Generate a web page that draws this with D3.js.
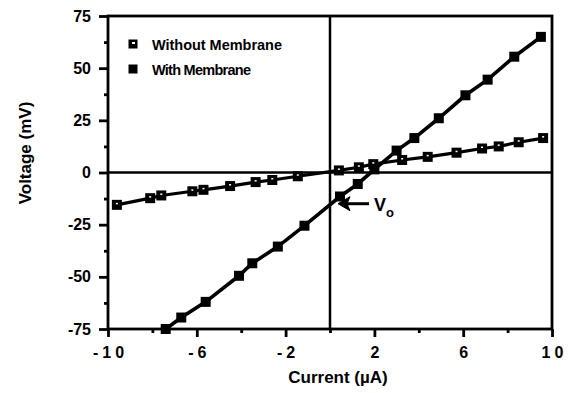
<!DOCTYPE html>
<html>
<head>
<meta charset="utf-8">
<script src="https://cdn.jsdelivr.net/npm/d3@7"></script>
<style>
  body { margin: 0; background: #fff; }
  text { font-family: "Liberation Sans", Arial, sans-serif; font-weight: bold; fill: #000; }
</style>
</head>
<body>
<div id="chart"></div>
<script>
// current (uA) / voltage (mV)
const withoutCurrent = [-9.6, -8.1, -7.6, -6.2, -5.7, -4.5, -3.35, -2.6, -1.45, 0.4, 1.3, 1.95, 3.25, 4.4, 5.7, 6.85, 7.6, 8.5, 9.6];
const withoutVoltage = [-15.5, -12.3, -11, -9, -8.3, -6.5, -4.6, -3.6, -1.8, 1, 2.5, 4, 6, 7.5, 9.5, 11.5, 12.5, 14.5, 16.5];
const withCurrent = [-7.4, -6.7, -5.6, -4.1, -3.5, -2.35, -1.15, 0.45, 1.25, 2.0, 3.0, 3.8, 4.9, 6.1, 7.1, 8.3, 9.5];
const withVoltage = [-75, -69.5, -62, -49.5, -43.5, -35.5, -25.5, -11.5, -5.5, 1.5, 10.5, 16.5, 26, 37, 44.5, 55.5, 65];

const xTicks = [-10, -6, -2, 2, 6, 10];
const xMinorTicks = [-8, -4, 0, 4, 8];
const yTicks = [75, 50, 25, 0, -25, -50, -75];
const yMinorTicks = [62.5, 37.5, 12.5, -12.5, -37.5, -62.5];
const seriesNames = ["Without Membrane", "With Membrane"];
const v0Label = { current: 0, voltage: -14 };

const width = 574, height = 393;
const margin = { top: 16, right: 22, bottom: 64, left: 108 };

const x = d3.scaleLinear().domain([-10, 10]).range([margin.left, width - margin.right]);
const y = d3.scaleLinear().domain([-75, 75]).range([height - margin.bottom, margin.top]);

const svg = d3.select("#chart").append("svg")
    .attr("width", width)
    .attr("height", height);

const withoutData = withoutCurrent.map((c, i) => ({ c, v: withoutVoltage[i] }));
const withData = withCurrent.map((c, i) => ({ c, v: withVoltage[i] }));

const fmt = d => String(d); // plain hyphen minus like the original

// frame
svg.append("rect")
    .attr("x", x(-10)).attr("y", y(75))
    .attr("width", x(10) - x(-10)).attr("height", y(-75) - y(75))
    .attr("fill", "none").attr("stroke", "#000").attr("stroke-width", 2.8);

// zero lines
svg.append("line")
    .attr("x1", x(-10)).attr("x2", x(10)).attr("y1", y(0)).attr("y2", y(0))
    .attr("stroke", "#000").attr("stroke-width", 2.5);
svg.append("line")
    .attr("x1", x(0)).attr("x2", x(0)).attr("y1", y(75)).attr("y2", y(-75))
    .attr("stroke", "#000").attr("stroke-width", 2.5);

// axes
const xAxis = g => g
    .attr("transform", `translate(0,${y(-75)})`)
    .call(d3.axisBottom(x).tickValues(xTicks).tickSize(8).tickPadding(10).tickFormat(fmt))
    .call(g => g.select(".domain").remove())
    .call(g => g.selectAll(".tick line").attr("stroke-width", 2.8))
    .call(g => g.selectAll(".tick text")
        .attr("font-size", 16)
        .attr("letter-spacing", "4px")
        .attr("font-family", "Liberation Sans, Arial, sans-serif")
        .attr("font-weight", "bold")
        .attr("dx", "2px"));

const xMinor = g => g
    .attr("transform", `translate(0,${y(-75)})`)
    .call(d3.axisBottom(x).tickValues(xMinorTicks).tickSize(4).tickFormat(""))
    .call(g => g.select(".domain").remove())
    .call(g => g.selectAll(".tick line").attr("stroke-width", 2.8));

const yAxis = g => g
    .attr("transform", `translate(${x(-10)},0)`)
    .call(d3.axisLeft(y).tickValues(yTicks).tickSize(9).tickPadding(8).tickFormat(fmt))
    .call(g => g.select(".domain").remove())
    .call(g => g.selectAll(".tick line").attr("stroke-width", 2.8))
    .call(g => g.selectAll(".tick text")
        .attr("font-size", 16)
        .attr("font-family", "Liberation Sans, Arial, sans-serif")
        .attr("font-weight", "bold"));

const yMinor = g => g
    .attr("transform", `translate(${x(-10)},0)`)
    .call(d3.axisLeft(y).tickValues(yMinorTicks).tickSize(4).tickFormat(""))
    .call(g => g.select(".domain").remove())
    .call(g => g.selectAll(".tick line").attr("stroke-width", 2.8));

svg.append("g").call(xAxis);
svg.append("g").call(xMinor);
svg.append("g").call(yAxis);
svg.append("g").call(yMinor);

// axis titles
svg.append("text")
    .attr("x", x(0) + 8).attr("y", 383)
    .attr("text-anchor", "middle")
    .attr("font-size", 17)
    .text("Current (\u00B5A)");

svg.append("text")
    .attr("transform", `translate(31,153) rotate(-90)`)
    .attr("text-anchor", "middle")
    .attr("font-size", 17)
    .text("Voltage (mV)");

// data lines
const line = d3.line().x(d => x(d.c)).y(d => y(d.v));

svg.append("path").datum(withoutData)
    .attr("fill", "none").attr("stroke", "#000").attr("stroke-width", 3.2)
    .attr("d", line);
svg.append("path").datum(withData)
    .attr("fill", "none").attr("stroke", "#000").attr("stroke-width", 3.6)
    .attr("d", line);

// markers
const s = 10;
svg.append("g").selectAll("rect").data(withData).join("rect")
    .attr("x", d => x(d.c) - s / 2).attr("y", d => y(d.v) - s / 2)
    .attr("width", s).attr("height", s).attr("fill", "#000");

const wo = svg.append("g").selectAll("g").data(withoutData).join("g")
    .attr("transform", d => `translate(${x(d.c)},${y(d.v)})`);
wo.append("rect").attr("x", -s / 2).attr("y", -s / 2).attr("width", s).attr("height", s).attr("fill", "#000");
wo.append("rect").attr("x", -1).attr("y", -2).attr("width", 2).attr("height", 1.5).attr("fill", "#fff");

// legend
const legend = svg.append("g").attr("transform", "translate(133,44)");
seriesNames.forEach((name, i) => {
  const row = legend.append("g").attr("transform", `translate(0,${i * 25})`);
  row.append("rect").attr("x", -4.5).attr("y", -4.5).attr("width", 9).attr("height", 9).attr("fill", "#000");
  if (i === 0) {
    row.append("rect").attr("x", -1).attr("y", -2).attr("width", 3).attr("height", 2).attr("fill", "#fff");
  }
  row.append("text")
      .attr("x", 19).attr("y", 5.5)
      .attr("font-size", 14.5)
      .attr("textLength", i === 0 ? 130 : 99)
      .text(name);
});

// V0 annotation
const ax = x(v0Label.current) + 8, ay = y(v0Label.voltage) + 2;
svg.append("line")
    .attr("x1", ax + 8).attr("x2", ax + 31).attr("y1", ay).attr("y2", ay)
    .attr("stroke", "#000").attr("stroke-width", 3);
svg.append("path")
    .attr("d", `M${ax},${ay} L${ax + 12},${ay - 7} L${ax + 9},${ay} L${ax + 12},${ay + 7} Z`)
    .attr("fill", "#000").attr("stroke", "#000").attr("stroke-width", 1);
const vt = svg.append("text")
    .attr("x", ax + 36).attr("y", ay + 7)
    .attr("font-family", "Liberation Serif, Times New Roman, serif")
    .attr("font-weight", "normal")
    .attr("font-size", 18)
    .text("V");
vt.append("tspan")
    .attr("dy", 6).attr("font-size", 13)
    .text("o");
</script>
</body>
</html>
